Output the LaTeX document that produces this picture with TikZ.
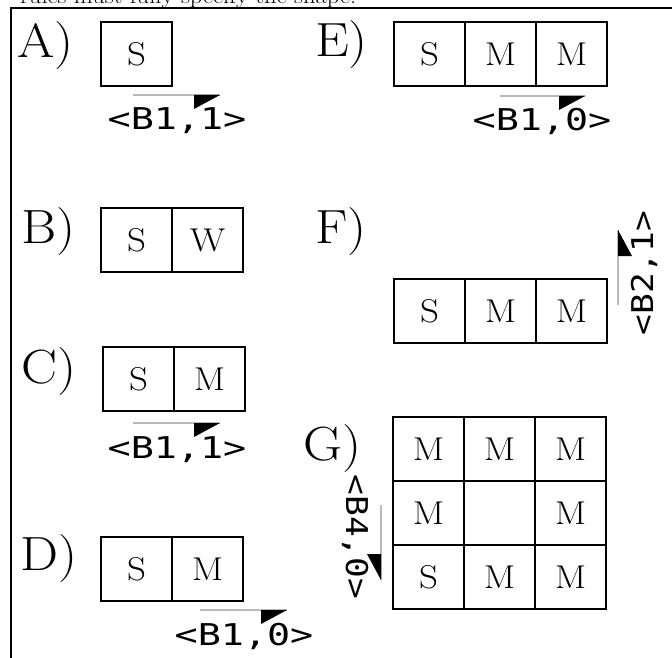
\documentclass[tikz,border=0pt]{standalone}
\usepackage{fontspec}
\usepackage{tikz}
\setmainfont{Latin Modern Roman}[FakeStretch=1.12]
\newfontfamily\posfont[FakeStretch=1.28]{DejaVu Sans Mono}
\newfontfamily\posfontv[FakeStretch=1.15]{DejaVu Sans Mono}

\tikzset{
        cell/.style={draw, line width=1.9pt, anchor=north west, minimum width=71pt,
                minimum height=64pt, inner sep=0pt, outer sep=0pt, font=\fontsize{33}{35}\selectfont},
        tag/.style={anchor=base west, inner sep=0pt, font=\fontsize{48}{50}\selectfont},
        flagline/.style={draw=gray!55, line width=1.5pt},
        poslabel/.style={anchor=base, inner sep=0pt, font=\posfont\fontsize{30}{32}\selectfont},
}

% tip, angle, line length, text
\newcommand{\flagmark}[5]{%
        \begin{scope}[shift={#2}, rotate=#3]
                \draw[flagline] (-#4,0) -- (0,0);
                \fill (0,0) -- (-26,0) -- (-26,14) -- cycle;
                \node[poslabel, rotate=#3] (#1) at (-43,35) {#5};
        \end{scope}}

\begin{document}
\begin{tikzpicture}[x=1pt, y=-1pt]
        \useasboundingbox (0,0) rectangle (672,658);

        % Caption and frame
        \node[anchor=base west, inner sep=0pt, font=\fontsize{22}{24}\selectfont] (caption) at (20,4) {rules must fully specify the shape.};
        \draw[line width=2pt] (11,658) -- (11,8) -- (672,8);

        % Titles
        \node[tag] (tA) at (17,58) {A)};
        \node[tag] (tB) at (21,243) {B)};
        \node[tag] (tC) at (21,383) {C)};
        \node[tag] (tD) at (20,570) {D)};
        \node[tag] (tE) at (315,57) {E)};
        \node[tag] (tF) at (315,243) {F)};
        \node[tag] (tG) at (303,460) {G)};

        % Boxes
        \node[cell] (a1) at (101,22) {S};

        \node[cell] (b1) at (101,208) {S};
        \node[cell] (b2) at (172,208) {W};

        \node[cell] (c1) at (103,347) {S};
        \node[cell] (c2) at (174,347) {M};

        \node[cell] (d1) at (101,537) {S};
        \node[cell] (d2) at (172,537) {M};

        \foreach \x/\t [count=\i] in {394/S,465/M,536/M} {
                \node[cell] (e\i) at (\x,22) {\t};
                \node[cell] (f\i) at (\x,279) {\t};
                }

        \foreach \x/\y/\t/\n in {393/417/M/g11,464/417/M/g12,535/417/M/g13,
                        393/481/M/g21,464/481/{}/g22,535/481/M/g23,
                        393/545/S/g31,464/545/M/g32,535/545/M/g33} {
                \node[cell] (\n) at (\x,\y) {\t};
                }

        % Positions
        \flagmark{pA}{(220,95)}{0}{87}{<B1,1>}
        \flagmark{pC}{(220,423)}{0}{87}{<B1,1>}
        \flagmark{pD}{(287,610)}{0}{87}{<B1,0>}
        \flagmark{pE}{(585,96)}{0}{85}{<B1,0>}
        \begin{scope}[poslabel/.append style={font=\posfontv\fontsize{30}{32}\selectfont}]
                \flagmark{pF}{(618,230)}{90}{75}{<B2,1>}
                \flagmark{pG}{(381,580)}{-90}{75}{<B4,0>}
        \end{scope}
\end{tikzpicture}
\end{document}
